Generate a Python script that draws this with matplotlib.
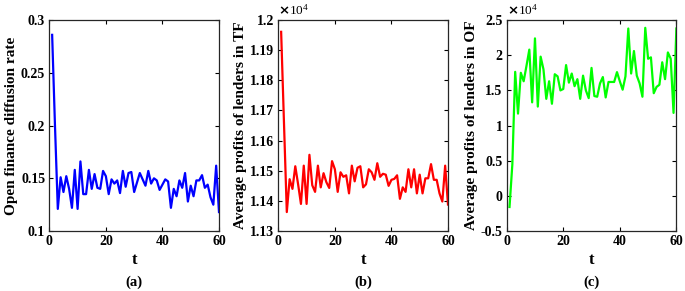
import numpy as np
import matplotlib.pyplot as plt
from matplotlib.ticker import FuncFormatter

plt.rcParams['font.family'] = ['Liberation Serif', 'DejaVu Serif']
plt.rcParams['font.weight'] = 'bold'
plt.rcParams['axes.labelweight'] = 'bold'

t = np.arange(1, 61)

diffusion_rate = [0.286, 0.200, 0.121, 0.151, 0.137, 0.152, 0.140, 0.122, 0.158, 0.121,
                  0.166, 0.135, 0.135, 0.158, 0.140, 0.154, 0.141, 0.140, 0.157, 0.152,
                  0.135, 0.149, 0.145, 0.148, 0.136, 0.157, 0.142, 0.155, 0.156, 0.137,
                  0.146, 0.155, 0.149, 0.143, 0.157, 0.145, 0.150, 0.148, 0.139, 0.144,
                  0.149, 0.147, 0.122, 0.140, 0.133, 0.148, 0.141, 0.155, 0.128, 0.143,
                  0.133, 0.148, 0.148, 0.153, 0.141, 0.144, 0.132, 0.125, 0.162, 0.118]

profit_tf = [11961, 11660, 11363, 11472, 11440, 11515, 11455, 11390, 11517, 11390,
             11553, 11452, 11430, 11517, 11445, 11492, 11462, 11443, 11532, 11505,
             11430, 11495, 11480, 11485, 11425, 11517, 11465, 11510, 11515, 11445,
             11455, 11505, 11495, 11470, 11525, 11480, 11490, 11487, 11450, 11470,
             11473, 11485, 11407, 11445, 11430, 11505, 11445, 11505, 11425, 11487,
             11425, 11475, 11475, 11522, 11470, 11470, 11425, 11398, 11517, 11388]

profit_of = [-1580, 4500, 17640, 11700, 17500, 16300, 18500, 20800, 13300, 22400,
             12700, 19800, 18000, 13800, 16300, 13100, 17300, 17000, 15000, 15200,
             18600, 16100, 17400, 15600, 16600, 13800, 17100, 15000, 13900, 18200,
             14200, 14100, 16000, 16900, 14000, 16200, 16200, 16200, 17600, 16300,
             15100, 17000, 23800, 17400, 20600, 17100, 16000, 14100, 23900, 19500,
             19700, 14600, 15500, 15800, 19000, 16600, 20400, 19500, 11800, 23800]

panels = [
    (diffusion_rate, 1.0, 'b', 'Open finance diffusion rate', '(a)',
     (0.1, 0.3), [0.1, 0.15, 0.2, 0.25, 0.3], False),
    (profit_tf, 1e4, 'r', 'Average profits of lenders in TF', '(b)',
     (1.13, 1.2), [1.13, 1.14, 1.15, 1.16, 1.17, 1.18, 1.19, 1.2], True),
    (profit_of, 1e4, (0, 1, 0), 'Average profits of lenders in OF', '(c)',
     (-0.5, 2.5), [-0.5, 0, 0.5, 1, 1.5, 2, 2.5], True),
]

lefts = [0.072, 0.4063, 0.7397]
fig = plt.figure(figsize=(6.85, 2.91), dpi=100)

for left, (vals, scale, color, ylabel, tag, ylim, yticks, show_exp) in zip(lefts, panels):
    ax = fig.add_axes([left, 0.206, 0.2477, 0.725])
    ax.plot(t, np.array(vals) / scale, color=color, lw=1.6)
    ax.set_xlim(0, 60)
    ax.set_ylim(*ylim)
    ax.set_xticks([0, 20, 40, 60])
    ax.set_yticks(yticks)
    ax.yaxis.set_major_formatter(FuncFormatter(lambda v, p: ('%g' % round(v, 4))))
    ax.tick_params(direction='in', top=True, right=True, length=3, width=0.8,
                   labelsize=10, pad=3)
    for s in ax.spines.values():
        s.set_linewidth(0.9)
        s.set_color('#262626')
    ax.set_ylabel(ylabel, fontsize=11, labelpad=2)
    ax.set_xlabel('t', fontsize=12, labelpad=3)
    if show_exp:
        ax.text(0.0, 1.01, r'$\times\mathregular{10^{4}}$', transform=ax.transAxes,
                fontsize=9.5, fontweight='normal', ha='left', va='bottom')
    fig.text(left + 0.2477 / 2, 0.008, tag, ha='center', va='bottom', fontsize=10.5)

fig.savefig('out.png', dpi=100)
